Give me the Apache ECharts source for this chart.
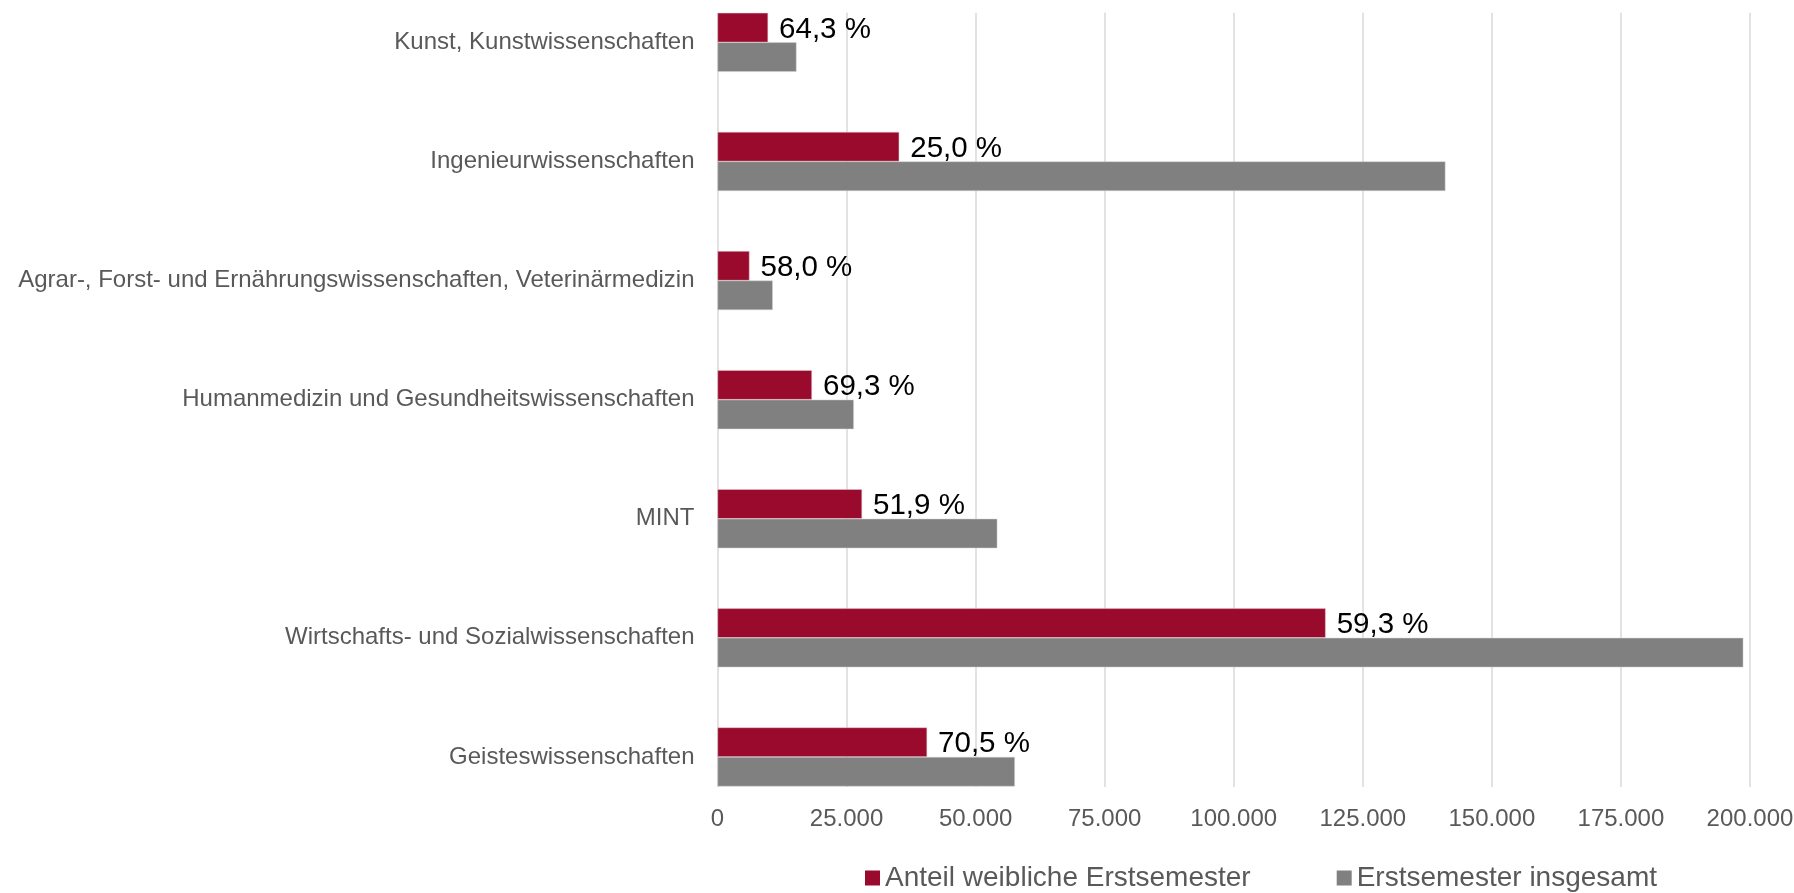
<!DOCTYPE html>
<html>
<head>
<meta charset="utf-8">
<script src="https://cdn.jsdelivr.net/npm/echarts@6/dist/echarts.min.js"></script>
<style>
html, body { margin: 0; padding: 0; background: #fff; }
#mainchart { width: 1794px; height: 893px; }
</style>
</head>
<body>
<div id="mainchart"></div>
<script>
var categories = ['Kunst, Kunstwissenschaften', 'Ingenieurwissenschaften',
	'Agrar-, Forst- und Ernährungswissenschaften, Veterinärmedizin',
	'Humanmedizin und Gesundheitswissenschaften', 'MINT',
	'Wirtschafts- und Sozialwissenschaften', 'Geisteswissenschaften'];
var female = [9800, 35200, 6200, 18300, 28000, 117800, 40600];
var total = [15300, 141000, 10700, 26400, 54200, 198700, 57600];
var femaleShare = ['64,3 %', '25,0 %', '58,0 %', '69,3 %', '51,9 %', '59,3 %', '70,5 %'];
var seriesNames = ['Anteil weibliche Erstsemester', 'Erstsemester insgesamt'];

function fmtNum(v) {
	return String(v).replace(/\B(?=(\d{3})+(?!\d))/g, '.');
}

var font = '"Liberation Sans", Arial, sans-serif';
var chart = echarts.init(document.getElementById('mainchart'));
var option = {
	animation: false,
	textStyle: { fontFamily: font },
	legend: {
		left: 860,
		top: 859,
		itemWidth: 15,
		itemHeight: 15,
		itemGap: 86,
		icon: 'rect',
		itemStyle: { borderWidth: 0 },
		data: seriesNames,
		textStyle: { fontFamily: font, fontSize: 28, color: '#595959' }
	},
	grid: [
		// gridlines + value labels
		{ left: 717.5, right: 44, top: 12.7, bottom: 106, outerBoundsMode: 'none' },
		// bars (band is taller than the gridline area, like the cropped original)
		{ left: 717.5, right: 44, top: -17.2, height: 833.7, outerBoundsMode: 'none' }
	],
	xAxis: [{
		gridIndex: 0,
		type: 'value',
		min: 0,
		max: 200000,
		interval: 25000,
		axisLine: { show: false },
		axisTick: { show: false },
		splitLine: { lineStyle: { color: '#d9d9d9', width: 1.5 } },
		axisLabel: {
			margin: 20,
			fontFamily: font,
			fontSize: 24,
			color: '#595959',
			formatter: fmtNum
		}
	}, {
		gridIndex: 1,
		type: 'value',
		min: 0,
		max: 200000,
		show: false
	}],
	yAxis: [{
		gridIndex: 0,
		type: 'category',
		data: categories,
		show: false
	}, {
		gridIndex: 1,
		type: 'category',
		inverse: true,
		data: categories,
		axisLine: { show: false },
		axisTick: { show: false },
		axisLabel: {
			margin: 23,
			padding: [4, 0, 0, 0],
			fontFamily: font,
			fontSize: 24,
			color: '#595959'
		}
	}],
	series: [{
		name: seriesNames[0],
		type: 'bar',
		xAxisIndex: 1,
		yAxisIndex: 1,
		barWidth: 29.5,
		barGap: '0%',
		itemStyle: { color: '#990a2c', borderColor: '#e6ccd3', borderWidth: 0.5 },
		label: {
			show: true,
			position: 'right',
			distance: 11,
			offset: [0, 2],
			fontFamily: font,
			fontSize: 29.5,
			color: '#000',
			formatter: function (p) { return femaleShare[p.dataIndex]; }
		},
		data: female
	}, {
		name: seriesNames[1],
		type: 'bar',
		xAxisIndex: 1,
		yAxisIndex: 1,
		barWidth: 29.5,
		barGap: '0%',
		itemStyle: { color: '#808080', borderColor: '#d0d0d0', borderWidth: 0.5 },
		data: total
	}]
};
chart.setOption(option);
</script>
</body>
</html>
